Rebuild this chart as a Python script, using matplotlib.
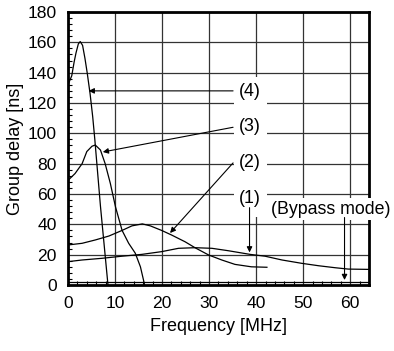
import matplotlib
matplotlib.use("Agg")
import matplotlib.pyplot as plt
from matplotlib.patches import Rectangle
from matplotlib.ticker import MultipleLocator

plt.rcParams['font.family'] = ['Liberation Sans', 'DejaVu Sans']

# Curve (4)
f4 = [0, 0.8, 1.3, 1.7, 2.2, 2.6, 3.1, 3.6, 4.1, 4.7, 5.25, 5.7, 6.9, 8.5]
d4 = [132, 138, 147, 153, 159, 160.5, 158, 149.5, 139.5, 126, 111, 96, 52, 0]
# Curve (3)
f3 = [0, 1.5, 3.0, 4.0, 5.1, 5.8, 6.9, 7.9, 9.0, 10.1, 11.5, 12.9, 14.3, 15.4, 16.3]
d3 = [69, 73.5, 80, 88, 91.5, 92.3, 89, 80, 67, 51.5, 36, 27.5, 21, 12, 0]
# Curve (2)
f2 = [0, 3, 5.8, 8.7, 11.5, 13.6, 15.8, 17.5, 19.9, 22, 24.9, 27, 29.9, 32.7, 35.5, 39, 42.3]
d2 = [26.4, 27.5, 29.7, 32.3, 36, 39, 40.3, 39, 36, 33, 28.5, 24.6, 19.8, 16.5, 13.6, 12, 11.7]
# Curve (1)
f1 = [0, 3, 7.2, 11.5, 15.7, 19.9, 23.5, 27, 30.6, 34.1, 38.7, 41.9, 45.5, 49.7, 53.3, 56.8, 59.6, 64]
d1 = [15.4, 16.5, 17.6, 19, 20.2, 22, 24.2, 24.6, 24.2, 22.6, 20.2, 19, 16.5, 14.3, 12.7, 11.4, 10.5, 10.3]
# Bypass mode
fb = [0, 64]
db = [2, 2]

x_ticks = [0, 10, 20, 30, 40, 50, 60]
y_ticks = [0, 20, 40, 60, 80, 100, 120, 140, 160, 180]

fig = plt.figure(figsize=(3.94, 3.51), dpi=100)
ax = fig.add_axes([0.1726, 0.188, 0.7639, 0.7778])

for f, d in [(f4, d4), (f3, d3), (f2, d2), (f1, d1), (fb, db)]:
    ax.plot(f, d, color='black', lw=0.9, zorder=2)

ax.set_xlim(0, 64)
ax.set_ylim(0, 180)
ax.set_xticks(x_ticks)
ax.set_yticks(y_ticks)
ax.xaxis.set_minor_locator(MultipleLocator(2))
ax.yaxis.set_minor_locator(MultipleLocator(4))
ax.tick_params(which='major', length=0, labelsize=12.6, pad=8)
ax.tick_params(which='minor', direction='in', length=3, width=0.8, top=False, right=False)
ax.grid(True, which='major', color='#333333', lw=0.9, zorder=1)
ax.set_axisbelow(True)
for s in ax.spines.values():
    s.set_linewidth(2)

ax.set_xlabel('Frequency [MHz]', fontsize=13, labelpad=5)
ax.set_ylabel('Group delay [ns]', fontsize=13, labelpad=3)

# white backgrounds for labels
ax.add_patch(Rectangle((35.3, 44.8), 7.0, 92.2, facecolor='white', edgecolor='none', zorder=1.5))
ax.add_patch(Rectangle((43.4, 42.8), 30, 14.5, facecolor='white', edgecolor='none', zorder=3, clip_on=False))

ap = dict(arrowstyle='-|>', mutation_scale=8, lw=0.8, color='black', shrinkA=0, shrinkB=0)
lab_x = 38.7
fs = 12.8
ax.text(lab_x, 127.5, '(4)', fontsize=fs, ha='center', va='center', zorder=4)
ax.text(lab_x, 104.5, '(3)', fontsize=fs, ha='center', va='center', zorder=4)
ax.text(lab_x, 81, '(2)', fontsize=fs, ha='center', va='center', zorder=4)
ax.text(lab_x, 57, '(1)', fontsize=fs, ha='center', va='center', zorder=4)
ax.text(55.9, 49.8, '(Bypass mode)', fontsize=fs, ha='center', va='center', zorder=4, clip_on=False)

ax.annotate('', xy=(4.4, 128), xytext=(35.1, 128), arrowprops=ap, zorder=4)
ax.annotate('', xy=(7.4, 87.7), xytext=(35.1, 104), arrowprops=ap, zorder=4)
ax.annotate('', xy=(21.7, 34.3), xytext=(35.1, 80.5), arrowprops=ap, zorder=4)
ax.annotate('', xy=(38.6, 21.5), xytext=(38.6, 51), arrowprops=ap, zorder=4)
ax.annotate('', xy=(58.8, 3.3), xytext=(58.8, 44.5), arrowprops=ap, zorder=4)

fig.savefig('out.png', dpi=100)
